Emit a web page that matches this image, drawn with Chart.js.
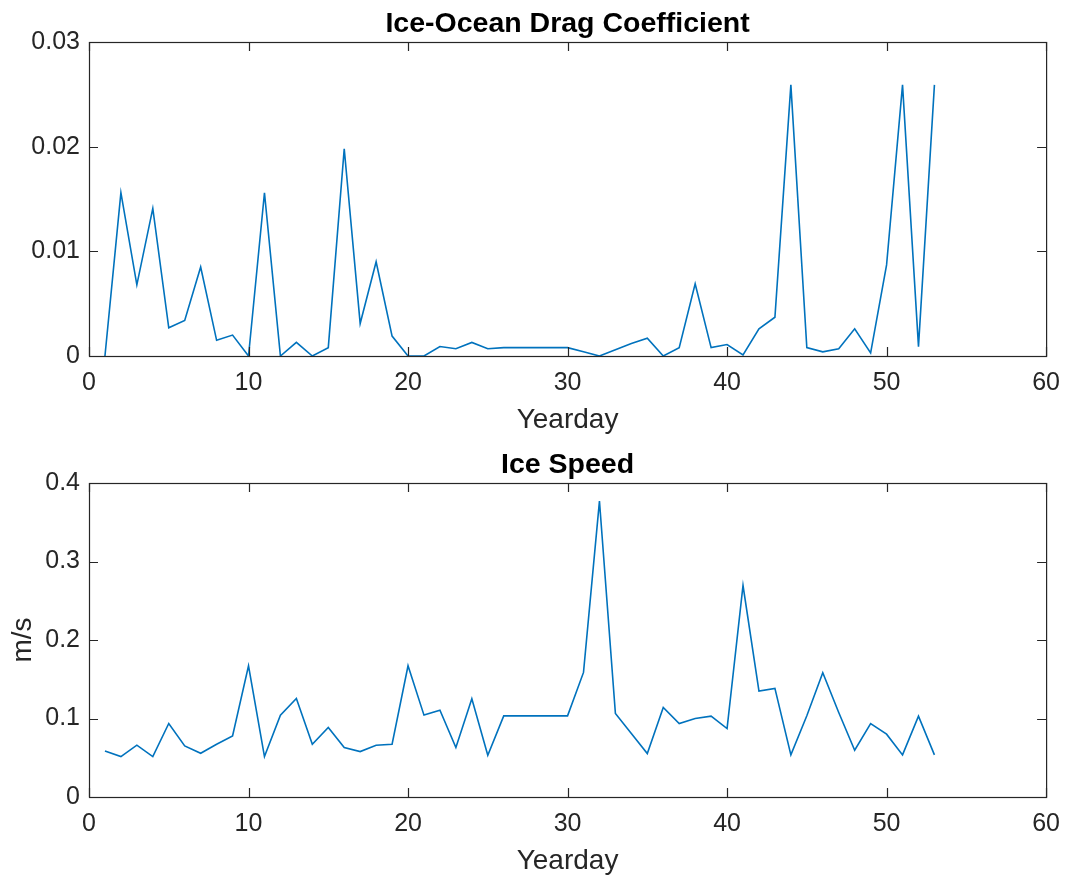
<!DOCTYPE html>
<html>
<head>
<meta charset="utf-8">
<script src="https://cdn.jsdelivr.net/npm/chart.js@4.4.1/dist/chart.umd.min.js"></script>
<style>
  html, body { margin: 0; padding: 0; background: #fff; }
  .panel { position: absolute; left: 0; width: 1072px; height: 441px; }
</style>
</head>
<body>
<div class="panel" style="top:0"><canvas id="dragChart" width="1072" height="441"></canvas></div>
<div class="panel" style="top:441px"><canvas id="speedChart" width="1072" height="441"></canvas></div>
<script>
// Yearday values
const days = [1, 2, 3, 4, 5, 6, 7, 8, 9, 10, 11, 12, 13, 14, 15, 16, 17, 18, 19, 20,
  21, 22, 23, 24, 25, 26, 27, 28, 29, 30, 31, 32, 33, 34, 35, 36, 37, 38, 39, 40,
  41, 42, 43, 44, 45, 46, 47, 48, 49, 50, 51, 52, 53];

const dragCoef = [0, 0.0156, 0.0068, 0.0141, 0.0027, 0.0034, 0.0085, 0.0015, 0.0020, 0,
  0.0156, 0, 0.0013, 0, 0.0008, 0.0198, 0.0031, 0.0090, 0.0019, 0,
  0, 0.0009, 0.0007, 0.0013, 0.0007, 0.0008, 0.0008, 0.0008, 0.0008, 0.0008,
  0.0004, 0, 0.0006, 0.0012, 0.0017, 0, 0.0008, 0.0069, 0.0008, 0.0011,
  0.0001, 0.0026, 0.0037, 0.0259, 0.0008, 0.0004, 0.0007, 0.0026, 0.0003, 0.0087,
  0.0259, 0.0009, 0.0259];

const iceSpeed = [0.0587, 0.0515, 0.066, 0.0515, 0.0936, 0.0651, 0.0557, 0.0672, 0.0779, 0.1672,
  0.0515, 0.1043, 0.1255, 0.0672, 0.0885, 0.063, 0.0579, 0.066, 0.0672, 0.1672,
  0.1043, 0.1106, 0.063, 0.1251, 0.0532, 0.1034, 0.1034, 0.1034, 0.1034, 0.1034,
  0.1587, 0.377, 0.1064, 0.0809, 0.0553, 0.114, 0.0936, 0.1, 0.103, 0.0872,
  0.2694, 0.1349, 0.1383, 0.0536, 0.1034, 0.1583, 0.1077, 0.0596, 0.0936, 0.08,
  0.0536, 0.103, 0.0536];

// tick values
const xTicks = [0, 10, 20, 30, 40, 50, 60];
const dragTicks = [0, 0.01, 0.02, 0.03];
const speedTicks = [0, 0.1, 0.2, 0.3, 0.4];

const axisColor = '#262626';
const fontFamily = '"Liberation Sans", Arial, Helvetica, sans-serif';

// matlab style box with inward ticks on all four sides
const matlabAxes = {
  id: 'matlabAxes',
  afterDatasetsDraw(chart) {
    const { ctx, chartArea: a, scales: { x, y } } = chart;
    const len = 9;
    ctx.save();
    ctx.strokeStyle = axisColor;
    ctx.lineWidth = 1.2;
    ctx.beginPath();
    x.ticks.forEach(t => {
      const px = Math.round(x.getPixelForValue(t.value)) + 0.5;
      ctx.moveTo(px, a.bottom); ctx.lineTo(px, a.bottom - len);
      ctx.moveTo(px, a.top); ctx.lineTo(px, a.top + len);
    });
    y.ticks.forEach(t => {
      const py = Math.round(y.getPixelForValue(t.value)) + 0.5;
      ctx.moveTo(a.left, py); ctx.lineTo(a.left + len, py);
      ctx.moveTo(a.right, py); ctx.lineTo(a.right - len, py);
    });
    ctx.stroke();
    ctx.strokeRect(a.left + 0.5, a.top + 0.5, a.width, a.height);
    ctx.restore();
  }
};

function makeChart(id, title, values, yTicks, yLabel) {
  const ctx = document.getElementById(id).getContext('2d');
  return new Chart(ctx, {
    type: 'line',
    data: {
      datasets: [{
        data: days.map((d, i) => ({ x: d, y: values[i] })),
        borderColor: '#0072BD',
        borderWidth: 1.6,
        pointRadius: 0,
        tension: 0,
        fill: false
      }]
    },
    options: {
      responsive: false,
      animation: false,
      layout: { padding: { left: 0, right: 25, top: 0, bottom: 0 } },
      plugins: {
        legend: { display: false },
        tooltip: { enabled: false },
        title: {
          display: true,
          text: title,
          color: '#000',
          fullSize: false,
          font: { family: fontFamily, size: 28.5, weight: 'bold' },
          padding: { top: 7.5, bottom: 0.3 }
        }
      },
      scales: {
        x: {
          type: 'linear',
          min: 0,
          max: 60,
          afterBuildTicks: s => { s.ticks = xTicks.map(v => ({ value: v })); },
          afterFit: s => { s.height = 85; },
          grid: { display: false, drawTicks: false },
          border: { display: false },
          ticks: {
            color: axisColor,
            padding: 12,
            maxRotation: 0,
            font: { family: fontFamily, size: 25 },
            callback: v => String(v)
          },
          title: {
            display: true,
            text: 'Yearday',
            color: axisColor,
            font: { family: fontFamily, size: 28 },
            padding: { top: 0, bottom: 4 }
          }
        },
        y: {
          type: 'linear',
          min: yTicks[0],
          max: yTicks[yTicks.length - 1],
          afterBuildTicks: s => { s.ticks = yTicks.map(v => ({ value: v })); },
          afterFit: s => { s.width = 89; },
          grid: { display: false, drawTicks: false },
          border: { display: false },
          ticks: {
            color: axisColor,
            padding: 9,
            font: { family: fontFamily, size: 25 },
            callback: v => String(v)
          },
          title: {
            display: !!yLabel,
            text: yLabel || '',
            color: axisColor,
            font: { family: fontFamily, size: 28 },
            padding: { top: 6, bottom: 0 }
          }
        }
      }
    },
    plugins: [matlabAxes]
  });
}

makeChart('dragChart', 'Ice-Ocean Drag Coefficient', dragCoef, dragTicks, null);
makeChart('speedChart', 'Ice Speed', iceSpeed, speedTicks, 'm/s');
</script>
</body>
</html>
